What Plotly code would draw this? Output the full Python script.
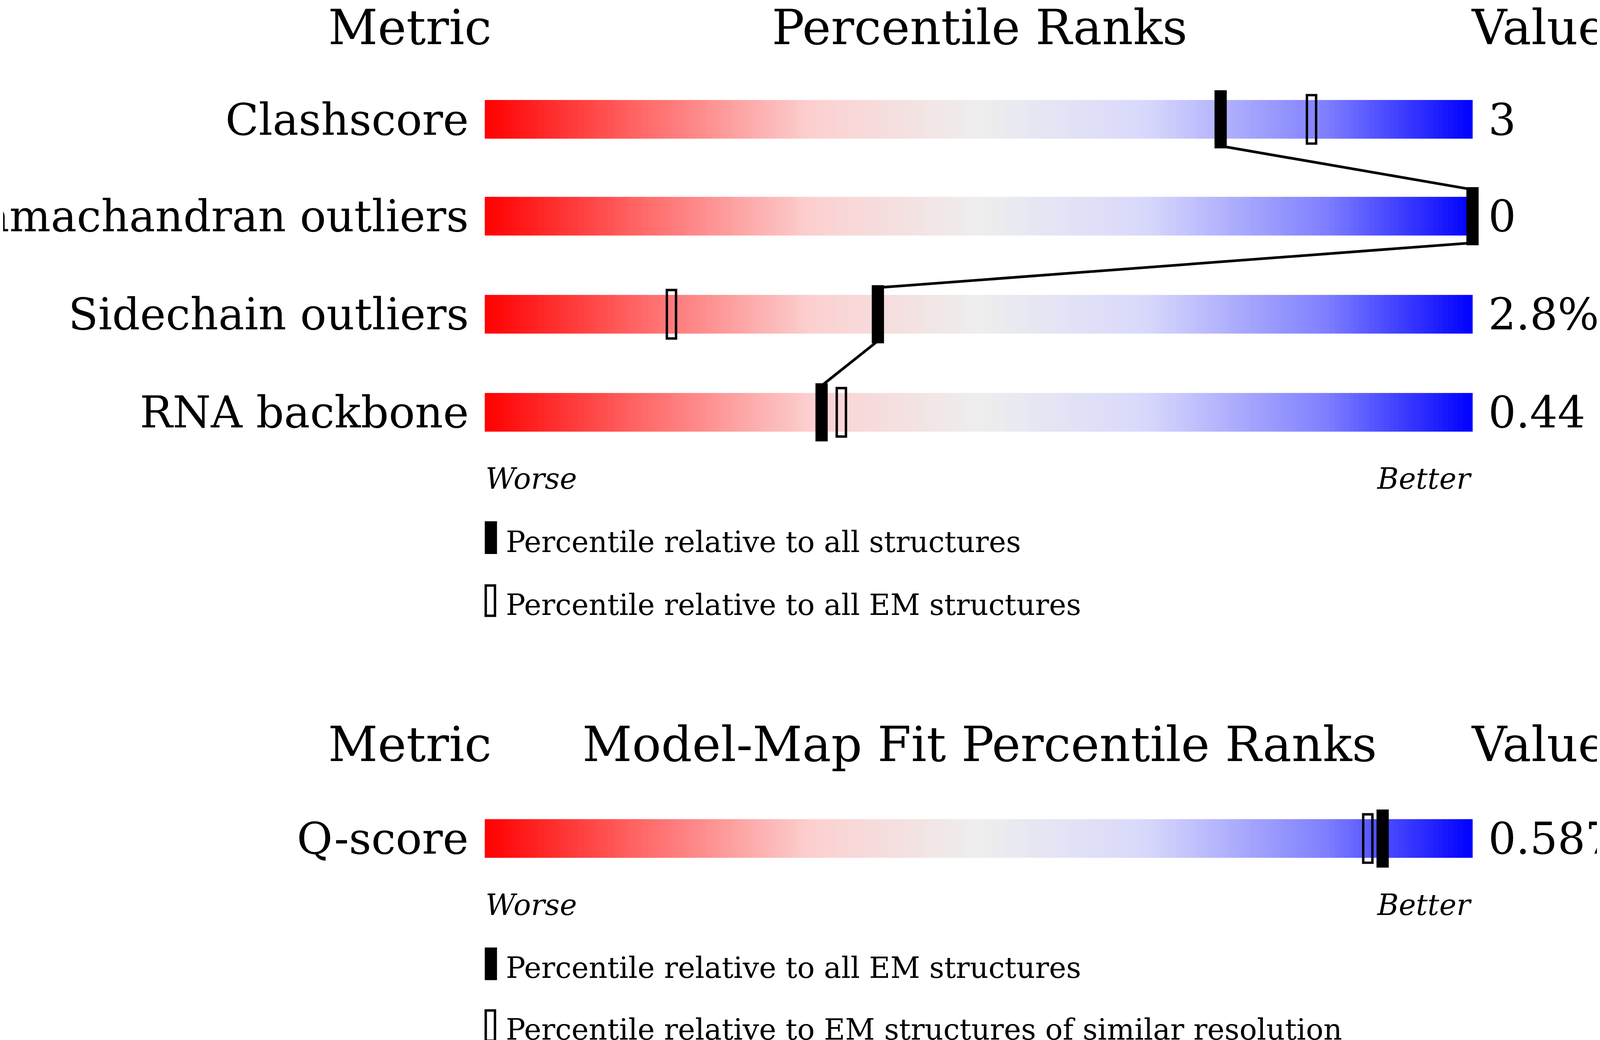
import plotly.graph_objects as go

S = 4860/1568
metrics = ["Clashscore", "Ramachandran outliers", "Sidechain outliers", "RNA backbone"]
values = ["3", "0", "2.8%", "0.44"]
pct_all = [74.5, 100.0, 39.8, 34.1]
pct_em = [83.7, None, 18.9, 36.1]
fit_metrics = ["Q-score"]
fit_values = ["0.587"]
fit_pct_em = [90.9]
fit_pct_res = [89.4]

rows_y = [96, 176, 257, 338]
fit_y = [690]
PX = 9.68  # display px per percentile

cs = [[0, "#ff0000"], [0.15, "#ff6262"], [0.33, "#fcd0d0"], [0.5, "#eeeeee"],
      [0.67, "#d8d8fc"], [0.85, "#8080ff"], [1, "#0000ff"]]

fig = go.Figure()
edges = [i / 2 for i in range(0, 201)]
zrow = [[i / 2 + 0.25 for i in range(200)]]
for yc in rows_y + fit_y:
    fig.add_trace(go.Heatmap(x=edges, y=[yc - 16, yc + 16], z=zrow, colorscale=cs,
                             zmin=0, zmax=100, showscale=False, hoverinfo="skip"))

lx, ly = [], []
for i in range(len(pct_all) - 1):
    lx += [pct_all[i], pct_all[i + 1], None]
    ly += [rows_y[i] + 22, rows_y[i + 1] - 22, None]
fig.add_trace(go.Scatter(x=lx, y=ly, mode="lines", line=dict(color="black", width=2.2 * S),
                         hoverinfo="skip", showlegend=False))

shapes = []
def filled(p, yc, h=24, w=12):
    shapes.append(dict(type="rect", x0=p - w / 2 / PX, x1=p + w / 2 / PX, y0=yc - h, y1=yc + h,
                       fillcolor="black", line=dict(width=0)))
def hollow(p, yc, h=20, w=9):
    shapes.append(dict(type="rect", x0=p - w / 2 / PX, x1=p + w / 2 / PX, y0=yc - h, y1=yc + h,
                       fillcolor="rgba(0,0,0,0)", line=dict(color="black", width=2 * S)))

for p, yc in zip(pct_em, rows_y):
    if p is not None:
        hollow(p, yc)
for p, yc in zip(pct_all, rows_y):
    filled(p, yc)
for p, yc in zip(fit_pct_res, fit_y):
    hollow(p, yc)
for p, yc in zip(fit_pct_em, fit_y):
    filled(p, yc)

shapes.append(dict(type="rect", x0=0, x1=12 / PX, y0=428, y1=455, fillcolor="black", line=dict(width=0)))
shapes.append(dict(type="rect", x0=0.1, x1=10 / PX, y0=481, y1=506, fillcolor="rgba(0,0,0,0)", line=dict(color="black", width=2 * S)))
shapes.append(dict(type="rect", x0=0, x1=12 / PX, y0=780, y1=807, fillcolor="black", line=dict(width=0)))
shapes.append(dict(type="rect", x0=0.1, x1=10 / PX, y0=832, y1=857, fillcolor="rgba(0,0,0,0)", line=dict(color="black", width=2 * S)))

ann = []
F = "DejaVu Serif"
def t(x, y, s, size, xa="center", italic=False):
    ann.append(dict(x=x, y=y, text=s, showarrow=False, xanchor=xa, yanchor="middle",
                    font=dict(family=F, size=size * S, color="black",
                              style="italic" if italic else "normal")))

for yt, title in [(20, "Percentile Ranks"), (612, "Model-Map Fit Percentile Ranks")]:
    t(-7.6, yt, "Metric", 40)
    t(50.1, yt, title, 40)
    t(106.7, yt, "Value", 40)
for m, v, yc in zip(metrics + fit_metrics, values + fit_values, rows_y + fit_y):
    t(-1.55, yc, m, 36, "right")
    t(101.5, yc, v, 36, "left")
for yw in [393, 745]:
    t(0, yw, "Worse", 24, "left", True)
    t(100, yw, "Better", 24, "right", True)
t(20 / PX, 445, "Percentile relative to all structures", 24, "left")
t(20 / PX, 497, "Percentile relative to all EM structures", 24, "left")
t(20 / PX, 797, "Percentile relative to all EM structures", 24, "left")
t(20 / PX, 848, "Percentile relative to EM structures of similar resolution", 24, "left")

fig.update_layout(autosize=True, margin=dict(l=0, r=0, t=0, b=0),
                  plot_bgcolor="white", paper_bgcolor="white", shapes=shapes, annotations=ann,
                  xaxis=dict(range=[-472 / PX, (1568 - 472) / PX], visible=False, fixedrange=True),
                  yaxis=dict(range=[859, 0], visible=False, fixedrange=True), showlegend=False)
fig.write_html("out.html", default_width="100vw", default_height="100vh",
               config={"responsive": True, "displayModeBar": False})
